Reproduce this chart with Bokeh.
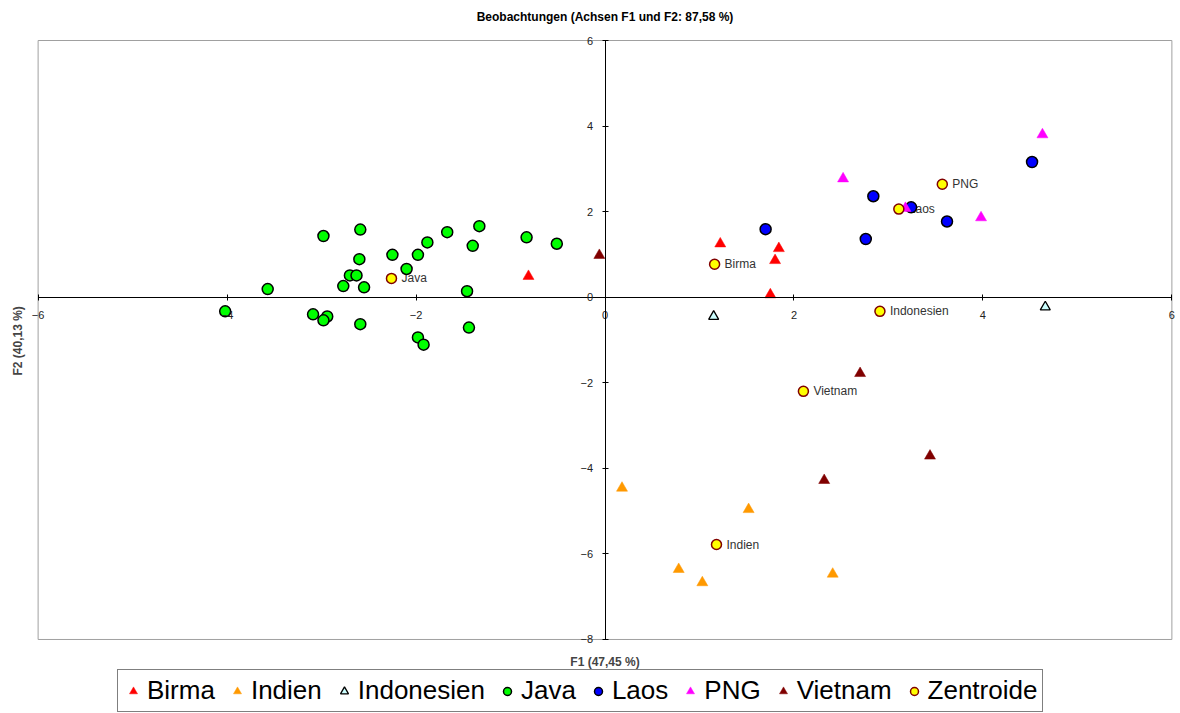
from bokeh.plotting import figure
from bokeh.models import (FixedTicker, Legend, LegendItem, Title, Label,
                          ColumnDataSource, Range1d)
from bokeh.core.properties import value
from bokeh.embed import file_html
from bokeh.resources import INLINE

# Observations projected onto factors F1 and F2
birma_x = [1.22, 1.84, 1.80, 1.75, -0.81]
birma_y = [1.25, 1.14, 0.86, 0.06, 0.49]

indien_x = [0.18, 1.52, 0.78, 1.03, 2.41]
indien_y = [-4.46, -4.96, -6.36, -6.67, -6.47]

indonesien_x = [1.15, 4.66]
indonesien_y = [-0.45, -0.23]

java_x = [-4.02, -3.57, -3.09, -2.94, -2.98, -2.98, -2.59, -2.60, -2.70, -2.63,
          -2.77, -2.55, -2.59, -2.25, -2.10, -1.98, -1.88, -1.67, -1.33, -1.40,
          -1.46, -1.44, -1.98, -1.92, -0.83, -0.51]
java_y = [-0.33, 0.19, -0.40, -0.45, -0.54, 1.43, 1.58, 0.89, 0.51, 0.51,
          0.26, 0.23, -0.63, 0.99, 0.66, 0.99, 1.28, 1.52, 1.66, 1.20,
          0.14, -0.71, -0.94, -1.11, 1.40, 1.25]

laos_x = [1.70, 2.84, 2.76, 3.24, 3.62, 4.52]
laos_y = [1.59, 2.36, 1.36, 2.10, 1.77, 3.16]

png_x = [2.52, 3.18, 3.98, 4.63]
png_y = [2.77, 2.08, 1.86, 3.80]

vietnam_x = [-0.06, 2.70, 2.32, 3.44]
vietnam_y = [0.98, -1.78, -4.28, -3.71]

zentroide_names = ["Birma", "Indien", "Indonesien", "Java", "Laos", "PNG", "Vietnam"]
zentroide_x = [1.16, 1.18, 2.91, -2.26, 3.11, 3.57, 2.10]
zentroide_y = [0.77, -5.78, -0.33, 0.44, 2.06, 2.64, -2.20]

x_ticks = [-6, -4, -2, 0, 2, 4, 6]
y_ticks = [-8, -6, -4, -2, 0, 2, 4, 6]

FONT = "Liberation Sans"
x0, x1 = x_ticks[0], x_ticks[-1]
y0, y1 = y_ticks[0], y_ticks[-1]

# Range padding: room for the end tick labels, and below the box for the
# axis title and legend strip
PAD_X = 0.07
PAD_TOP = 0.234
PAD_BOTTOM = 1.73

p = figure(width=1180, height=713, output_backend="svg", toolbar_location=None,
           x_range=Range1d(x0 - PAD_X, x1 + PAD_X),
           y_range=Range1d(y0 - PAD_BOTTOM, y1 + PAD_TOP),
           min_border_left=31, min_border_right=2, min_border_top=30,
           min_border_bottom=0)

p.title.text = "Beobachtungen (Achsen F1 und F2: 87,58 %)"
p.title.align = "center"
p.title.text_font = FONT
p.title.text_font_size = "12px"
p.title.text_font_style = "bold"
p.title.text_color = "black"
p.title.standoff = 14

p.xgrid.visible = False
p.ygrid.visible = False
p.outline_line_color = None
p.background_fill_color = "white"
p.border_fill_color = "white"

# Gray plot box at the axis limits
p.quad(left=[x0], right=[x1], bottom=[y0], top=[y1], fill_color=None,
       line_color="#a0a0a0", line_width=1)

# Axes crossing at the origin
for ax, ticks in ((p.xaxis, x_ticks), (p.yaxis, y_ticks)):
    ax.fixed_location = 0
    ax.bounds = (ticks[0], ticks[-1])
    ax.ticker = FixedTicker(ticks=ticks)
    ax.minor_tick_line_color = None
    ax.major_tick_in = 3
    ax.major_tick_out = 3
    ax.axis_line_color = "black"
    ax.major_tick_line_color = "black"
    ax.major_label_text_font = FONT
    ax.major_label_text_font_size = "11px"
    ax.major_label_text_color = "#222222"
p.xaxis.major_label_standoff = 11
p.yaxis.major_label_standoff = 9

p.add_layout(Label(x=0, y=52, y_units="screen", text="F1 (47,45 %)",
                   text_align="center", text_baseline="middle", text_font=FONT,
                   text_font_size="12px", text_font_style="bold"))
p.add_layout(Title(text="F2 (40,13 %)", align="left", offset=338, text_font=FONT,
                   text_font_size="12px", text_font_style="bold", standoff=14), "left")

# Centroid labels sit beneath the markers
lab_src = ColumnDataSource(dict(x=zentroide_x, y=zentroide_y, t=zentroide_names))
p.text("x", "y", text="t", source=lab_src, x_offset=10, text_baseline="middle",
       text_font=value(FONT), text_font_size="12px", text_color="#333333")

r_birma = p.scatter(birma_x, birma_y, marker="triangle", size=11,
                    fill_color="#ff0000", line_color="#ff0000", line_width=0.5)
r_indien = p.scatter(indien_x, indien_y, marker="triangle", size=11,
                     fill_color="#ff9900", line_color="#ff9900", line_width=0.5)
r_indo = p.scatter(indonesien_x, indonesien_y, marker="triangle", size=10,
                   fill_color="#ccffff", line_color="black", line_width=1.3)
r_java = p.scatter(java_x, java_y, marker="circle", size=11,
                   fill_color="#00ff00", line_color="black", line_width=1.5)
r_laos = p.scatter(laos_x, laos_y, marker="circle", size=11,
                   fill_color="#0000ff", line_color="black", line_width=1.5)
r_png = p.scatter(png_x, png_y, marker="triangle", size=11,
                  fill_color="#ff00ff", line_color="#ff00ff", line_width=0.5)
r_viet = p.scatter(vietnam_x, vietnam_y, marker="triangle", size=11,
                   fill_color="#800000", line_color="#800000", line_width=0.5)
r_zent = p.scatter(zentroide_x, zentroide_y, marker="circle", size=10,
                   fill_color="#ffff00", line_color="#800000", line_width=1.5)

# Legend strip under the axis title (screen offset from the lower-left corner)
legend = Legend(items=[
    LegendItem(label="Birma", renderers=[r_birma]),
    LegendItem(label="Indien", renderers=[r_indien]),
    LegendItem(label="Indonesien", renderers=[r_indo]),
    LegendItem(label="Java", renderers=[r_java]),
    LegendItem(label="Laos", renderers=[r_laos]),
    LegendItem(label="PNG", renderers=[r_png]),
    LegendItem(label="Vietnam", renderers=[r_viet]),
    LegendItem(label="Zentroide", renderers=[r_zent]),
], orientation="horizontal", location=(86, 1))
legend.label_text_font = FONT
legend.label_text_font_size = "26px"
legend.label_text_color = "black"
legend.label_height = 28
legend.border_line_color = "black"
legend.border_line_width = 1
legend.background_fill_color = "white"
legend.glyph_width = 20
legend.glyph_height = 20
legend.label_standoff = 4
legend.spacing = 12
legend.padding = 5
legend.margin = 0
p.add_layout(legend, "center")

open("out.html", "w").write(file_html(p, INLINE))
